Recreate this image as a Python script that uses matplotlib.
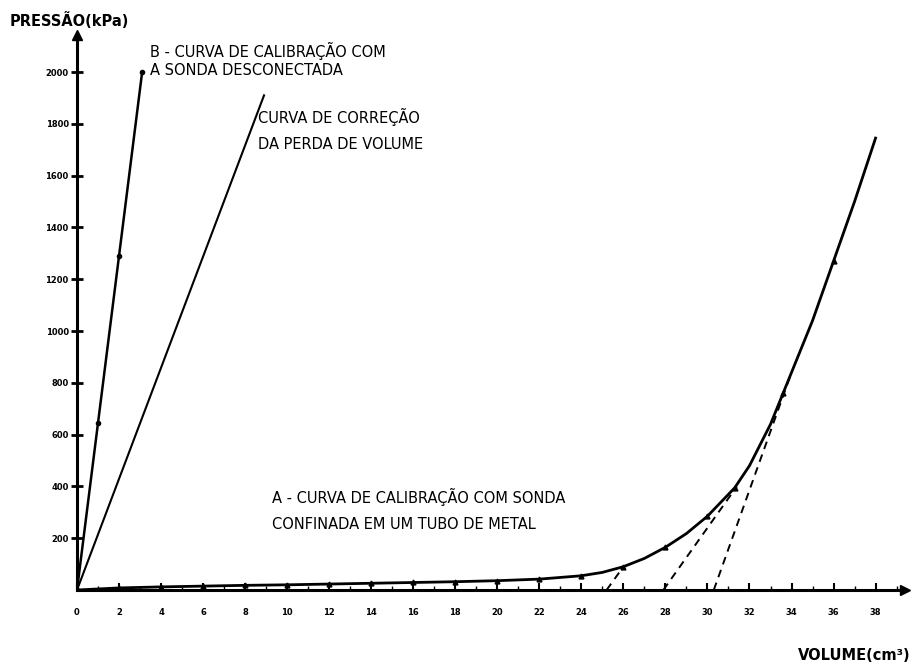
import matplotlib
matplotlib.use("Agg")
import matplotlib.pyplot as plt

# curva A - sonda confinada em tubo de metal
vol_a = [0, 2, 4, 6, 8, 10, 12, 14, 16, 18, 20, 22, 24, 25, 26, 27, 28, 29, 30, 31.3, 32, 33, 33.6, 34, 35, 36, 37, 38]
pres_a = [0, 8, 12, 15, 18, 20, 23, 26, 29, 32, 36, 42, 55, 68, 90, 122, 165, 218, 285, 395, 480, 640, 760, 840, 1040, 1270, 1500, 1745]
marc_a = [2, 4, 6, 8, 10, 12, 14, 16, 18, 20, 22, 24, 26, 28, 30, 31.3, 33.6, 36]
marc_pa = [8, 12, 15, 18, 20, 23, 26, 29, 32, 36, 42, 55, 90, 165, 285, 395, 760, 1270]

# curva B - sonda desconectada
vol_b = [0, 1.0, 2.0, 3.1]
pres_b = [0, 645, 1290, 2000]

# curva de correcao da perda de volume
vol_c = [0, 8.9]
pres_c = [0, 1910]

# retas tracejadas (tangentes)
tang_1 = ([25.2, 26.0], [0, 90])
tang_2 = ([27.9, 31.4], [0, 400])
tang_3 = ([30.3, 34.0], [0, 840])

xticks = list(range(0, 40, 2))
yticks = [200, 400, 600, 800, 1000, 1200, 1400, 1600, 1800, 2000]
ylabels = ["200", "400", "600", "800", "1000", "1200", "1400", "1600", "1800", "2000"]

fig = plt.figure(figsize=(9.24, 6.68), dpi=100)
ax = fig.add_axes([77/924, 78/668, 828/924, 555/668])
ax.set_xlim(0, 39.4)
ax.set_ylim(0, 2143)

ax.plot(vol_a, pres_a, color="black", lw=2)
ax.plot(marc_a, marc_pa, ls="none", marker="^", ms=3.5, color="black")
ax.plot(vol_b, pres_b, color="black", lw=1.8, marker="o", ms=3)
ax.plot(vol_c, pres_c, color="black", lw=1.5)
for t in (tang_1, tang_2, tang_3):
    ax.plot(t[0], t[1], color="black", lw=1.4, dashes=(4, 3))

for s in ("top", "right"):
    ax.spines[s].set_visible(False)
for s in ("left", "bottom"):
    ax.spines[s].set_linewidth(2.2)
# setas dos eixos
ax.plot(1, 0, ">k", ms=7, transform=ax.transAxes, clip_on=False)
ax.plot(0, 1, "^k", ms=7, transform=ax.transAxes, clip_on=False)

ax.set_xticks(xticks)
ax.set_xticks(range(0, 40), minor=True)
ax.set_yticks(yticks)
ax.set_yticklabels(ylabels)
ax.tick_params(axis="x", which="major", direction="in", length=5, width=1.5, labelsize=6, pad=13)
ax.tick_params(axis="x", which="minor", direction="in", length=3, width=1)
ax.tick_params(axis="y", direction="inout", length=8, width=2, labelsize=6, pad=2)
for lab in ax.get_xticklabels() + ax.get_yticklabels():
    lab.set_fontweight("bold")

fig.text(10/924, 1 - 20/668, "PRESSÃO(kPa)", fontsize=10.5, fontweight="bold", va="center")
fig.text(798/924, 1 - 655/668, "VOLUME(cm³)", fontsize=10.5, fontweight="bold", va="center")

ax.text(3.45, 2115, "B - CURVA DE CALIBRAÇÃO COM\nA SONDA DESCONECTADA",
        fontsize=10.5, va="top", linespacing=1.2)
ax.text(8.6, 1860, "CURVA DE CORREÇÃO\nDA PERDA DE VOLUME",
        fontsize=10.5, va="top", linespacing=1.9)
ax.text(9.3, 395, "A - CURVA DE CALIBRAÇÃO COM SONDA\nCONFINADA EM UM TUBO DE METAL",
        fontsize=10.5, va="top", linespacing=1.9)

fig.savefig("out.png", dpi=100)
